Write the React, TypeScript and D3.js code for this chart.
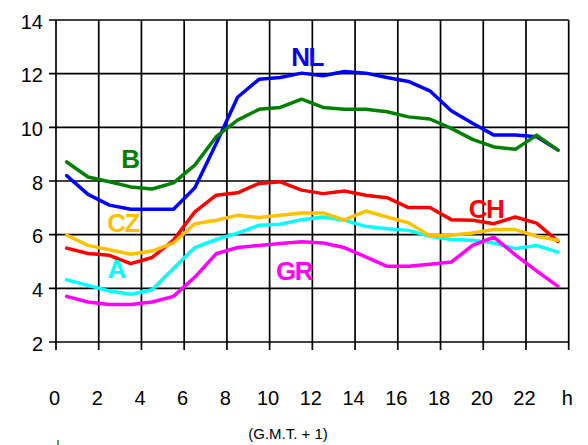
import React from "react";
import * as d3 from "d3";

const hours = [0.5, 1.5, 2.5, 3.5, 4.5, 5.5, 6.5, 7.5, 8.5, 9.5, 10.5, 11.5, 12.5, 13.5, 14.5, 15.5, 16.5, 17.5, 18.5, 19.5, 20.5, 21.5, 22.5, 23.5];

const NL = [8.2, 7.5, 7.1, 6.95, 6.95, 6.95, 7.75, 9.4, 11.12, 11.79, 11.86, 12.02, 11.92, 12.08, 12.02, 11.86, 11.71, 11.36, 10.62, 10.15, 9.71, 9.71, 9.65, 9.15];
const B = [8.71, 8.15, 7.97, 7.78, 7.7, 7.93, 8.59, 9.65, 10.27, 10.67, 10.74, 11.05, 10.74, 10.67, 10.67, 10.58, 10.39, 10.31, 9.96, 9.55, 9.27, 9.18, 9.71, 9.15];
const CH = [5.5, 5.3, 5.23, 4.92, 5.15, 5.8, 6.85, 7.47, 7.56, 7.91, 7.97, 7.66, 7.53, 7.63, 7.47, 7.38, 7.01, 7.01, 6.56, 6.54, 6.41, 6.66, 6.43, 5.75];
const CZ = [5.98, 5.6, 5.44, 5.27, 5.39, 5.69, 6.41, 6.54, 6.72, 6.64, 6.72, 6.81, 6.81, 6.55, 6.88, 6.66, 6.44, 5.96, 5.98, 6.06, 6.19, 6.19, 5.94, 5.79];
const A = [4.32, 4.11, 3.9, 3.78, 3.95, 4.74, 5.52, 5.82, 6.06, 6.35, 6.39, 6.56, 6.66, 6.54, 6.31, 6.22, 6.16, 5.94, 5.82, 5.79, 5.69, 5.48, 5.6, 5.35];
const GR = [3.7, 3.49, 3.4, 3.4, 3.49, 3.7, 4.42, 5.29, 5.52, 5.6, 5.67, 5.74, 5.69, 5.52, 5.17, 4.82, 4.82, 4.9, 4.98, 5.6, 5.91, 5.25, 4.65, 4.07];

const seriesNames = ["NL", "B", "A", "CH", "CZ", "GR"];
const seriesValues = [NL, B, A, CH, CZ, GR];
const seriesColors = ["#0000FF", "#008000", "#00FFFF", "#FF0000", "#FFC000", "#FF00FF"];
// label anchor (baseline) for each series label, in data units
const labelHours = [11.75, 3.46, 2.81, 20.13, 3.14, 11.14];
const labelValues = [12.28, 8.48, 4.37, 6.61, 6.09, 4.32];

const yTicks = [2, 4, 6, 8, 10, 12, 14];
const xTicks = [0, 2, 4, 6, 8, 10, 12, 14, 16, 18, 20, 22, 24];
const xTickLabels = ["0", "2", "4", "6", "8", "10", "12", "14", "16", "18", "20", "22", "h"];
const subtitle = "(G.M.T. + 1)";

export default function App() {
  const W = 588;
  const H = 445;
  const x = d3.scaleLinear().domain([0, 24]).range([56, 568.7]);
  const y = d3.scaleLinear().domain([2, 14]).range([342, 20]);
  const line = d3
    .line<number>()
    .x((_, i) => x(hours[i]))
    .y((d) => y(d));
  const font = "Liberation Sans, Arial, sans-serif";

  return (
    <svg
      width={W}
      height={H}
      style={{ position: "absolute", left: 0, top: 0, background: "#fff" }}
      fontFamily={font}
    >
      <rect x={0} y={0} width={W} height={H} fill="#fff" />
      {yTicks.map((t) => (
        <line key={"gy" + t} x1={x(0) - 7} x2={x(24)} y1={y(t)} y2={y(t)} stroke="#000" strokeWidth={1.7} />
      ))}
      {xTicks.map((t) => (
        <line key={"gx" + t} x1={x(t)} x2={x(t)} y1={y(14)} y2={y(2) + 8} stroke="#000" strokeWidth={1.7} />
      ))}
      {yTicks.map((t) => (
        <text key={"ly" + t} x={43} y={y(t) + 8.5} textAnchor="end" fontSize={20} fill="#000">
          {t}
        </text>
      ))}
      {xTicks.map((t, i) => (
        <text key={"lx" + t} x={x(t) - 1.5} y={405} textAnchor="middle" fontSize={20} fill="#000">
          {xTickLabels[i]}
        </text>
      ))}
      <text x={288} y={439} textAnchor="middle" fontSize={15} fill="#000">
        {subtitle}
      </text>
      <line x1={58} x2={58} y1={440} y2={445} stroke="#2e7d32" strokeWidth={1.5} />
      {seriesValues.map((vals, i) => (
        <path
          key={seriesNames[i]}
          d={line(vals) || ""}
          fill="none"
          stroke={seriesColors[i]}
          strokeWidth={3.5}
          strokeLinejoin="round"
          strokeLinecap="round"
        />
      ))}
      {seriesNames.map((n, i) => (
        <text
          key={"t" + n}
          x={x(labelHours[i])}
          y={y(labelValues[i])}
          textAnchor="middle"
          fontSize={26}
          fontWeight="bold"
          letterSpacing={-1.5}
          fill={seriesColors[i]}
        >
          {n}
        </text>
      ))}
    </svg>
  );
}
